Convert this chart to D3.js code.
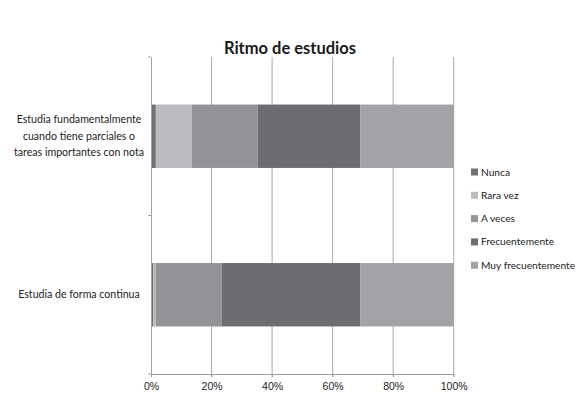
<!DOCTYPE html>
<html>
<head>
<meta charset="utf-8">
<script src="https://cdn.jsdelivr.net/npm/d3@7"></script>
<style>
  body { margin: 0; background: #fff; }
  svg { font-family: Lato, "Open Sans", sans-serif; }
</style>
</head>
<body>
<div id="chart"></div>
<script>
// datos
var categories = ["Estudia fundamentalmente cuando tiene parciales o tareas importantes con nota", "Estudia de forma continua"];
var categoryLines = [["Estudia fundamentalmente", "cuando tiene parciales o", "tareas importantes con nota"], ["Estudia de forma continua"]];
var seriesNames = ["Nunca", "Rara vez", "A veces", "Frecuentemente", "Muy frecuentemente"];
var nunca = [1.6, 0.8];
var raraVez = [11.8, 0.8];
var aVeces = [21.8, 21.8];
var frecuentemente = [34.0, 45.8];
var muyFrecuentemente = [30.8, 30.8];
var colors = ["#707174", "#bbbcbf", "#929396", "#6c6d71", "#a2a3a6"];
var xTicks = [0, 20, 40, 60, 80, 100];

var width = 580, height = 395;
var margin = {top: 57, left: 151, right: 127, bottom: 21};

var svg = d3.select("#chart").append("svg")
  .attr("width", width)
  .attr("height", height);

svg.append("text")
  .attr("x", 290)
  .attr("y", 54)
  .attr("text-anchor", "middle")
  .style("font-size", "16.5px")
  .style("font-weight", "bold")
  .style("fill", "#1a1a1a")
  .text("Ritmo de estudios");

var x = d3.scaleLinear().domain([0, 100]).range([margin.left, width - margin.right + 0.7]);
var y = d3.scaleBand().domain(categories).range([margin.top, height - margin.bottom]).paddingInner(0).paddingOuter(0);

var rows = categories.map(function (c, i) {
  return {cat: c, Nunca: nunca[i], "Rara vez": raraVez[i], "A veces": aVeces[i], Frecuentemente: frecuentemente[i], "Muy frecuentemente": muyFrecuentemente[i]};
});
var stack = d3.stack().keys(seriesNames)(rows);

// gridlines
svg.append("g").selectAll("line")
  .data(xTicks.slice(1))
  .enter().append("line")
  .attr("x1", d => x(d)).attr("x2", d => x(d))
  .attr("y1", margin.top).attr("y2", height - margin.bottom + 3)
  .attr("stroke", "#a9a9ab").attr("stroke-width", 1);

// bars
var barH = y.bandwidth() * 0.4;
svg.append("g").selectAll("g")
  .data(stack)
  .enter().append("g")
  .attr("fill", (d, i) => colors[i])
  .selectAll("rect")
  .data(d => d)
  .enter().append("rect")
  .attr("x", d => x(d[0]))
  .attr("width", d => x(d[1]) - x(d[0]))
  .attr("y", d => y(d.data.cat) + (y.bandwidth() - barH) / 2)
  .attr("height", barH);

// x axis
var xAxis = svg.append("g")
  .attr("transform", "translate(0," + (height - margin.bottom) + ")")
  .call(d3.axisBottom(x).tickValues(xTicks).tickFormat(d => d + "%").tickSize(3).tickSizeOuter(0));
xAxis.select(".domain").attr("stroke", "#a0a0a2");
xAxis.selectAll(".tick line").attr("stroke", "#a0a0a2");
xAxis.selectAll("text").style("font-size", "10.5px").style("fill", "#222").attr("dy", "0.95em");

// y axis
var yAxis = svg.append("g")
  .attr("transform", "translate(" + margin.left + ",0)")
  .call(d3.axisLeft(y).tickValues([]).tickSizeOuter(0));
yAxis.select(".domain").attr("stroke", "#a0a0a2");
svg.append("g").selectAll("line")
  .data([margin.top, y(categories[1]), height - margin.bottom])
  .enter().append("line")
  .attr("x1", margin.left - 3).attr("x2", margin.left)
  .attr("y1", d => d).attr("y2", d => d)
  .attr("stroke", "#a0a0a2");

// category labels
categoryLines.forEach(function (lines, i) {
  var cy = y(categories[i]) + y.bandwidth() / 2;
  var t = svg.append("text")
    .attr("text-anchor", "middle")
    .style("font-size", "10.6px")
    .style("fill", "#222");
  lines.forEach(function (l, j) {
    t.append("tspan")
      .attr("x", 79)
      .attr("y", cy + (j - (lines.length - 1) / 2) * 16.5)
      .attr("dy", "0.35em")
      .text(l);
  });
});

// legend
var legend = svg.append("g").selectAll("g")
  .data(seriesNames)
  .enter().append("g")
  .attr("transform", (d, i) => "translate(471," + (172 + i * 23.3) + ")");
legend.append("rect")
  .attr("x", 0).attr("y", -3.5)
  .attr("width", 7).attr("height", 7)
  .attr("fill", (d, i) => colors[i]);
legend.append("text")
  .attr("x", 10)
  .attr("dy", "0.35em")
  .style("font-size", "10.2px")
  .style("fill", "#222")
  .text(d => d);
</script>
</body>
</html>
